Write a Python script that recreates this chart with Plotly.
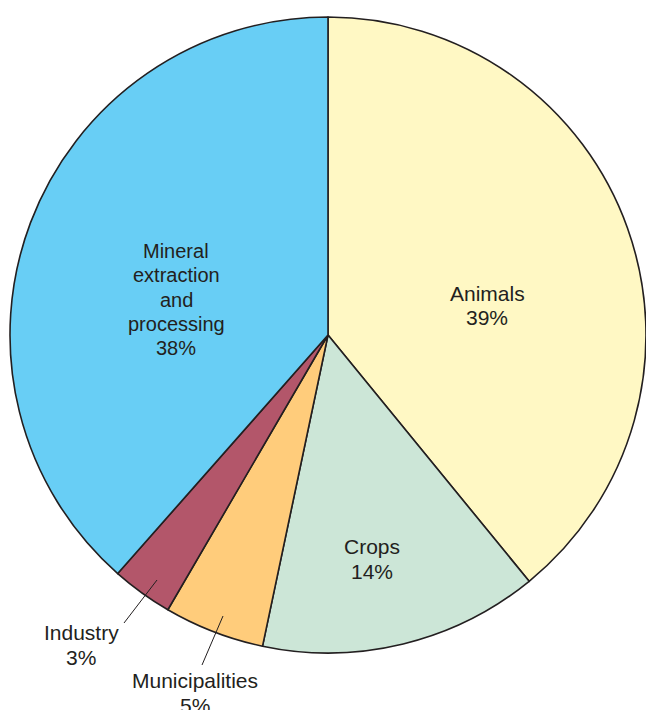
import plotly.graph_objects as go

categories = ["Animals", "Crops", "Municipalities", "Industry", "Mineral extraction and processing"]
label_lines = [["Animals"], ["Crops"], ["Municipalities"], ["Industry"],
               ["Mineral", "extraction", "and", "processing"]]
shares = [39.1, 14.2, 5.1, 3.1, 38.5]
pct_labels = ["39%", "14%", "5%", "3%", "38%"]
colors = ["#FFF8C4", "#CCE6D7", "#FFCC7B", "#B3566A", "#68CEF5"]

W, H = 646, 710
TEXT_COLOR = "#231F20"
FAMILY = "Liberation Sans, Arial, Helvetica, sans-serif"

fig = go.Figure(go.Pie(
    labels=categories,
    values=shares,
    text=pct_labels,
    textinfo="none",
    sort=False,
    direction="clockwise",
    rotation=0,
    marker=dict(colors=colors, line=dict(color=TEXT_COLOR, width=1.6)),
    domain=dict(x=[10 / W, 1], y=[1 - 655 / H, 1 - 15 / H]),
    showlegend=False,
    hoverinfo="label+percent",
))

def px(x, y):
    return x / W, 1 - y / H

# label placement (pixel centre x, centre y of first line, line spacing, font size)
label_layout = {
    0: (487, 293, 24.5, 21),
    1: (372, 546, 25, 21),
    2: (195, 680.5, 24.5, 21),
    3: (81, 632.5, 25, 21),
    4: (176, 251, 24.3, 20),
}
leaders = {
    3: ((157, 580), (124, 623)),
    2: ((223, 616), (202, 665)),
}

annotations = []
shapes = []
for idx, (cx, cy, step, size) in label_layout.items():
    lines = label_lines[idx] + [pct_labels[idx]]
    for i, line in enumerate(lines):
        ax, ay = px(cx, cy + i * step)
        annotations.append(dict(
            x=ax, y=ay, xref="paper", yref="paper", showarrow=False,
            text=line, font=dict(family=FAMILY, size=size, color=TEXT_COLOR),
            xanchor="center", yanchor="middle", align="center",
        ))
for idx, ((x0, y0), (x1, y1)) in leaders.items():
    sx0, sy0 = px(x0, y0)
    sx1, sy1 = px(x1, y1)
    shapes.append(dict(type="line", xref="paper", yref="paper",
                       x0=sx0, y0=sy0, x1=sx1, y1=sy1,
                       line=dict(color=TEXT_COLOR, width=1)))

fig.update_layout(
    width=W, height=H,
    margin=dict(l=0, r=0, t=0, b=0),
    paper_bgcolor="white",
    plot_bgcolor="white",
    annotations=annotations,
    shapes=shapes,
    font=dict(family=FAMILY, size=21, color=TEXT_COLOR),
)

fig.write_html("out.html", config={"displayModeBar": False},
               post_script="document.body.style.margin='0px';")
